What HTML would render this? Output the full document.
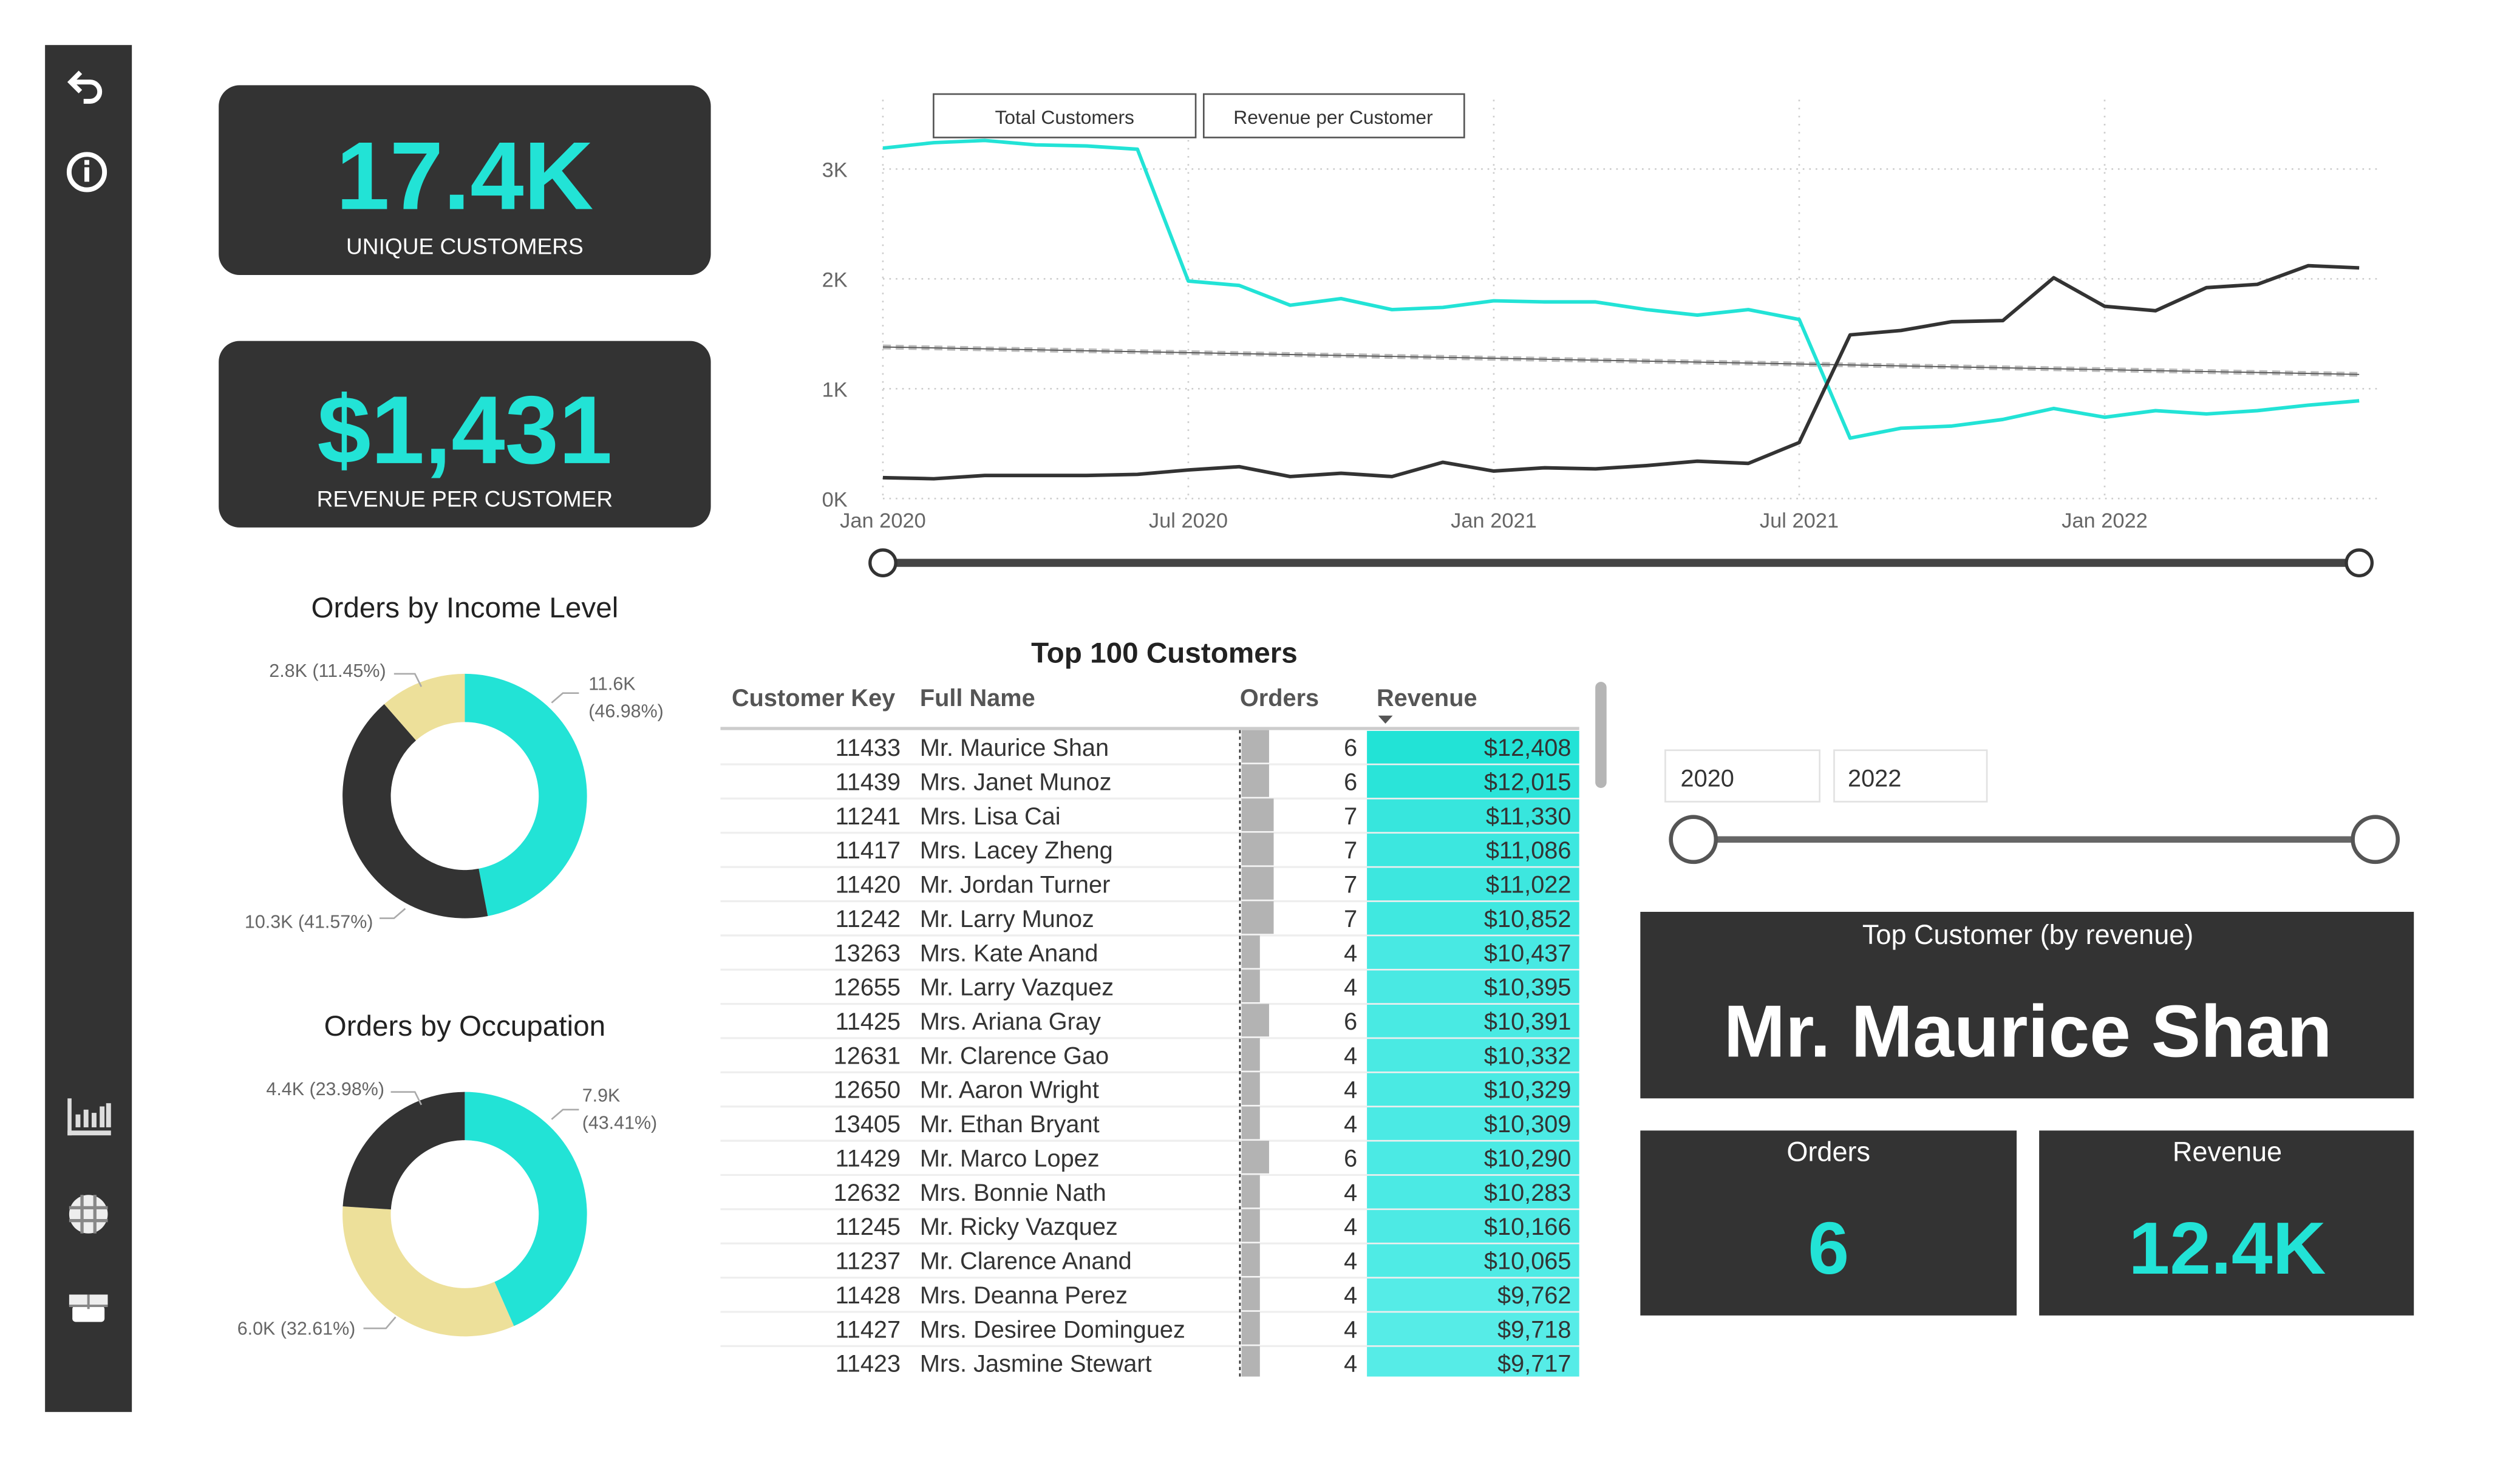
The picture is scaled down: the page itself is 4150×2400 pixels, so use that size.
<!DOCTYPE html>
<html><head><meta charset="utf-8"><style>
html,body{margin:0;padding:0;background:#fff;width:4150px;height:2400px;overflow:hidden}
svg{display:block;font-family:"Liberation Sans",sans-serif}
</style></head><body>
<svg id="root" width="4150" height="2400" viewBox="0 0 1567 906" preserveAspectRatio="none" xmlns="http://www.w3.org/2000/svg">
<rect x="0" y="0" width="1567" height="906" fill="#fff"/>
<g>
<rect x="28" y="28" width="54" height="850" fill="#333"/>
<g fill="none" stroke="#fff" stroke-width="3">
<path d="M50 45 L44 51 L50 57"/><path d="M45 51 H56 A6 6 0 0 1 56 63 H52"/></g>
<g><circle cx="54" cy="107" r="11" fill="none" stroke="#fff" stroke-width="3"/><rect x="52.5" y="104" width="3" height="9" fill="#fff"/><rect x="52.5" y="99.5" width="3" height="3" fill="#fff"/></g>
<g fill="#ddd"><rect x="42" y="683" width="2.5" height="23"/><rect x="42" y="703" width="27" height="3"/><rect x="47" y="693" width="3" height="8"/><rect x="52" y="690" width="3" height="11"/><rect x="57" y="692" width="3" height="9"/><rect x="62" y="688" width="3" height="13"/><rect x="66" y="686" width="3" height="15"/></g>
<g><circle cx="55" cy="755" r="12" fill="#eee"/><path d="M43 751 H67 M43 759 H67 M51 743 V767 M59 743 V767" stroke="#888" stroke-width="2"/></g>
<g><rect x="43" y="805" width="24" height="7" fill="#eee"/><rect x="45" y="812" width="20" height="10" rx="2" fill="#fff"/><path d="M55 805 V814 M43 812 H67" stroke="#888" stroke-width="1.5"/></g>
</g>

<g>
<rect x="136" y="53" width="306" height="118" rx="13" fill="#333"/>
<text x="289" y="130" text-anchor="middle" font-size="60" font-weight="bold" fill="#22E3D6">17.4K</text>
<text x="289" y="158" text-anchor="middle" font-size="14" fill="#fff">UNIQUE CUSTOMERS</text>
</g>
<g>
<rect x="136" y="212" width="306" height="116" rx="13" fill="#333"/>
<text x="289" y="288" text-anchor="middle" font-size="60" font-weight="bold" fill="#22E3D6">$1,431</text>
<text x="289" y="315" text-anchor="middle" font-size="14" fill="#fff">REVENUE PER CUSTOMER</text>
</g>

<g id="line-chart"></g>
<g id="donut1"></g>
<g id="donut2"></g>
<g id="table"></g>

<g>
<rect x="1035.5" y="466.5" width="96" height="32" fill="#fff" stroke="#e2e2e2"/>
<text x="1045" y="489" font-size="15" fill="#333">2020</text>
<rect x="1140.5" y="466.5" width="95" height="32" fill="#fff" stroke="#e2e2e2"/>
<text x="1149" y="489" font-size="15" fill="#333">2022</text>
<line x1="1053" y1="522" x2="1477" y2="522" stroke="#666" stroke-width="4"/>
<circle cx="1053" cy="522" r="14" fill="#fff" stroke="#555" stroke-width="2.5"/>
<circle cx="1477" cy="522" r="14" fill="#fff" stroke="#555" stroke-width="2.5"/>
</g>

<g>
<rect x="1020" y="567" width="481" height="116" fill="#333"/>
<text x="1261" y="587" text-anchor="middle" font-size="17" fill="#fff">Top Customer (by revenue)</text>
<text x="1261" y="657" text-anchor="middle" font-size="46" font-weight="bold" fill="#fff">Mr. Maurice Shan</text>
</g>
<g>
<rect x="1020" y="703" width="234" height="115" fill="#333"/>
<text x="1137" y="722" text-anchor="middle" font-size="17" fill="#fff">Orders</text>
<text x="1137" y="792" text-anchor="middle" font-size="46" font-weight="bold" fill="#22E3D6">6</text>
</g>
<g>
<rect x="1268" y="703" width="233" height="115" fill="#333"/>
<text x="1385" y="722" text-anchor="middle" font-size="17" fill="#fff">Revenue</text>
<text x="1385" y="792" text-anchor="middle" font-size="46" font-weight="bold" fill="#22E3D6">12.4K</text>
</g>
</svg>
<script>
const NS="http://www.w3.org/2000/svg";
// ---- line chart data ----
const months=["Jan 2020","Feb 2020","Mar 2020","Apr 2020","May 2020","Jun 2020","Jul 2020","Aug 2020","Sep 2020","Oct 2020","Nov 2020","Dec 2020","Jan 2021","Feb 2021","Mar 2021","Apr 2021","May 2021","Jun 2021","Jul 2021","Aug 2021","Sep 2021","Oct 2021","Nov 2021","Dec 2021","Jan 2022","Feb 2022","Mar 2022","Apr 2022","May 2022","Jun 2022"];
const totalCustomers=[3190,3240,3260,3220,3210,3180,1980,1940,1760,1820,1720,1740,1800,1790,1790,1720,1670,1720,1630,550,640,660,720,820,740,800,770,800,850,890];
const revenuePerCustomer=[190,180,210,210,210,220,260,290,200,230,200,330,250,280,270,300,340,320,510,1490,1530,1610,1620,2010,1750,1710,1920,1950,2120,2100];
const trendValues=[1380,1130];
const yTicks=[0,1000,2000,3000];
const yTickLabels=["0K","1K","2K","3K"];
const xTickIdx=[0,6,12,18,24];
const xTickLabels=["Jan 2020","Jul 2020","Jan 2021","Jul 2021","Jan 2022"];
// ---- donut data ----
const incomeValues=[46.98,41.57,11.45];
const incomeLabels=["11.6K|(46.98%)","10.3K (41.57%)","2.8K (11.45%)"];
const occValues=[43.41,32.61,23.98];
const occLabels=["7.9K|(43.41%)","6.0K (32.61%)","4.4K (23.98%)"];
// ---- table data ----
const custKeys=[11433,11439,11241,11417,11420,11242,13263,12655,11425,12631,12650,13405,11429,12632,11245,11237,11428,11427,11423];
const custNames=["Mr. Maurice Shan","Mrs. Janet Munoz","Mrs. Lisa Cai","Mrs. Lacey Zheng","Mr. Jordan Turner","Mr. Larry Munoz","Mrs. Kate Anand","Mr. Larry Vazquez","Mrs. Ariana Gray","Mr. Clarence Gao","Mr. Aaron Wright","Mr. Ethan Bryant","Mr. Marco Lopez","Mrs. Bonnie Nath","Mr. Ricky Vazquez","Mr. Clarence Anand","Mrs. Deanna Perez","Mrs. Desiree Dominguez","Mrs. Jasmine Stewart"];
const custOrders=[6,6,7,7,7,7,4,4,6,4,4,4,6,4,4,4,4,4,4];
const custRevenue=[12408,12015,11330,11086,11022,10852,10437,10395,10391,10332,10329,10309,10290,10283,10166,10065,9762,9718,9717];

function el(tag,attrs,parent,txt){const e=document.createElementNS(NS,tag);for(const k in attrs)e.setAttribute(k,attrs[k]);if(txt!==undefined)e.textContent=txt;parent.appendChild(e);return e;}

// ---- line chart ----
(function(){
const g=document.getElementById('line-chart');
const x0=549,x1=1467,y0=310,yPer=0.0683;
const xs=i=>x0+(x1-x0)*i/(months.length-1);
const ys=v=>y0-v*yPer;
yTicks.forEach((t,i)=>{
 const l=el('line',{x1:x0,x2:1478,y1:ys(t),y2:ys(t),stroke:'#ccc','stroke-width':1,'stroke-dasharray':'1 3'},g);
 
 
 const t2=el('text',{x:527,y:ys(t)+5,'text-anchor':'end','font-size':13,fill:'#666'},g,yTickLabels[i]);
 
 
});
xTickIdx.forEach((idx,i)=>{
 const l=el('line',{x1:xs(idx),x2:xs(idx),y1:62,y2:y0,stroke:'#ccc','stroke-width':1,'stroke-dasharray':'1 4'},g);
 
 
 const t=el('text',{x:xs(idx),y:y0+18,'text-anchor':'middle','font-size':13,fill:'#666'},g,xTickLabels[i]);
 
 
});
const n=months.length-1;
const tr1=el('line',{x1:xs(0),y1:ys(trendValues[0]),x2:xs(n),y2:ys(trendValues[1]),stroke:'#bbb','stroke-width':3,'stroke-dasharray':'5 3'},g);


el('line',{x1:xs(0),y1:ys(trendValues[0]),x2:xs(n),y2:ys(trendValues[1]),stroke:'#555','stroke-width':0.7},g);
const p1=el('polyline',{points:totalCustomers.map((v,i)=>xs(i)+','+ys(v)).join(' '),fill:'none',stroke:'#22E3D6','stroke-width':2.2,'stroke-linejoin':'round'},g);


const p2=el('polyline',{points:revenuePerCustomer.map((v,i)=>xs(i)+','+ys(v)).join(' '),fill:'none',stroke:'#333','stroke-width':2.2,'stroke-linejoin':'round'},g);


const b1=el('rect',{x:580.5,y:58.5,width:163,height:27,fill:'#fff',stroke:'#555','stroke-width':1},g);


el('text',{x:662,y:77,'text-anchor':'middle','font-size':12,fill:'#333'},g,'Total Customers');
const b2=el('rect',{x:748.5,y:58.5,width:162,height:27,fill:'#fff',stroke:'#555','stroke-width':1},g);


el('text',{x:829,y:77,'text-anchor':'middle','font-size':12,fill:'#333'},g,'Revenue per Customer');
el('line',{x1:x0,y1:350,x2:x1,y2:350,stroke:'#444','stroke-width':5},g);
const h1=el('circle',{cx:x0,cy:350,r:8,fill:'#fff',stroke:'#333','stroke-width':2},g);


const h2=el('circle',{cx:x1,cy:350,r:8,fill:'#fff',stroke:'#333','stroke-width':2},g);


})();

// ---- donuts ----
function arcPath(cx,cy,r0,r1,a0,a1){
 const p=(r,a)=>[cx+r*Math.sin(a),cy-r*Math.cos(a)];
 const large=(a1-a0)>Math.PI?1:0;
 const [ax,ay]=p(r1,a0),[bx,by]=p(r1,a1),[cx2,cy2]=p(r0,a1),[dx,dy]=p(r0,a0);
 return `M${ax},${ay} A${r1},${r1} 0 ${large} 1 ${bx},${by} L${cx2},${cy2} A${r0},${r0} 0 ${large} 0 ${dx},${dy} Z`;
}
function donut(id,title,titleY,cy,values,colors,labels,labelPos){
 const g=document.getElementById(id);
 const tt=el('text',{x:289,y:titleY,'text-anchor':'middle','font-size':18,fill:'#222'},g,title);
 
 
 const tot=values.reduce((a,b)=>a+b,0);let a=0;
 values.forEach((v,i)=>{
  const a1=a+v/tot*2*Math.PI;
  const s=el('path',{d:arcPath(289,cy,46,76,a,a1),fill:colors[i]},g);
  
  
  const lp=labelPos[i];
  el('polyline',{points:`${lp.sx},${lp.sy} ${lp.lx},${lp.ly} ${lp.lx2},${lp.ly}`,fill:'none',stroke:'#aaa','stroke-width':1},g);
  const parts=labels[i].split('|');
  parts.forEach((t,k)=>{
   const lt=el('text',{x:lp.tx,y:lp.ty+k*17,'text-anchor':lp.anchor,'font-size':11.5,fill:'#666'},g,t);
   
   
  });
  a=a1;
 });
}
const dc=['#22E3D6','#333333','#EDE09A'];
donut('donut1','Orders by Income Level',384,495,incomeValues,dc,incomeLabels,[
 {sx:343,sy:437,lx:350,ly:431,lx2:360,tx:366,ty:429,anchor:'start'},
 {sx:252,sy:565,lx:245,ly:571,lx2:236,tx:232,ty:577,anchor:'end'},
 {sx:262,sy:427,lx:258,ly:419,lx2:245,tx:240,ty:421,anchor:'end'}]);
donut('donut2','Orders by Occupation',644,755,occValues,['#22E3D6','#EDE09A','#333333'],occLabels,[
 {sx:343,sy:696,lx:350,ly:690,lx2:360,tx:362,ty:685,anchor:'start'},
 {sx:246,sy:819,lx:240,ly:826,lx2:226,tx:221,ty:830,anchor:'end'},
 {sx:262,sy:687,lx:258,ly:679,lx2:243,tx:239,ty:681,anchor:'end'}]);

// ---- table ----
(function(){
const g=document.getElementById('table');
const tt=el('text',{x:724,y:412,'text-anchor':'middle','font-size':18,'font-weight':'bold',fill:'#222'},g,'Top 100 Customers');


const hdr=[['Customer Key',455],['Full Name',572],['Orders',771],['Revenue',856]];
hdr.forEach(h=>{const t=el('text',{x:h[1],y:439,'font-size':15,'font-weight':'bold',fill:'#555'},g,h[0]);
 
 });
el('path',{d:'M857 445 H866 L861.5 450 Z',fill:'#555'},g);
const clip=el('clipPath',{id:'tclip'},g);el('rect',{x:440,y:453,width:560,height:403},clip);
const body=el('g',{'clip-path':'url(#tclip)'},g);
const rh=21.28, top=454;
const maxO=Math.max(...custOrders), maxR=Math.max(...custRevenue);
custKeys.forEach((k,i)=>{
 const y=top+i*rh;
 const row=el('g',{},body);
 
 
 el('line',{x1:448,x2:982,y1:y+rh,y2:y+rh,stroke:'#eee','stroke-width':1.2},row);
 el('text',{x:560,y:y+16,'text-anchor':'end','font-size':15,fill:'#333'},row,k);
 el('text',{x:572,y:y+16,'font-size':15,fill:'#333'},row,custNames[i]);
 const bw=custOrders[i]/maxO*20;
 const bar=el('rect',{x:772,y:y,width:bw,height:rh-1,fill:'#b3b3b3'},row);
 
 
 el('text',{x:844,y:y+16,'text-anchor':'end','font-size':15,fill:'#333'},row,custOrders[i]);
 const f=(maxR-custRevenue[i])/(maxR*0.25);
 const c=[34+f*60,227+f*10,214+f*20].map(v=>Math.round(Math.min(255,v)));
 const cell=el('rect',{x:850,y:y+0.5,width:132,height:rh-1,fill:`rgb(${c})`},row);
 
 
 el('text',{x:977,y:y+16,'text-anchor':'end','font-size':15,fill:'#333'},row,'$'+custRevenue[i].toLocaleString('en-US'));
});
el('line',{x1:771,x2:771,y1:454,y2:856,stroke:'#333','stroke-width':1,'stroke-dasharray':'2 2'},g);
el('line',{x1:448,x2:982,y1:453,y2:453,stroke:'#ccc','stroke-width':2},g);
const sb=el('rect',{x:992,y:424,width:7,height:66,rx:3.5,fill:'#b5b5b5'},g);


})();
</script>
</body></html>
